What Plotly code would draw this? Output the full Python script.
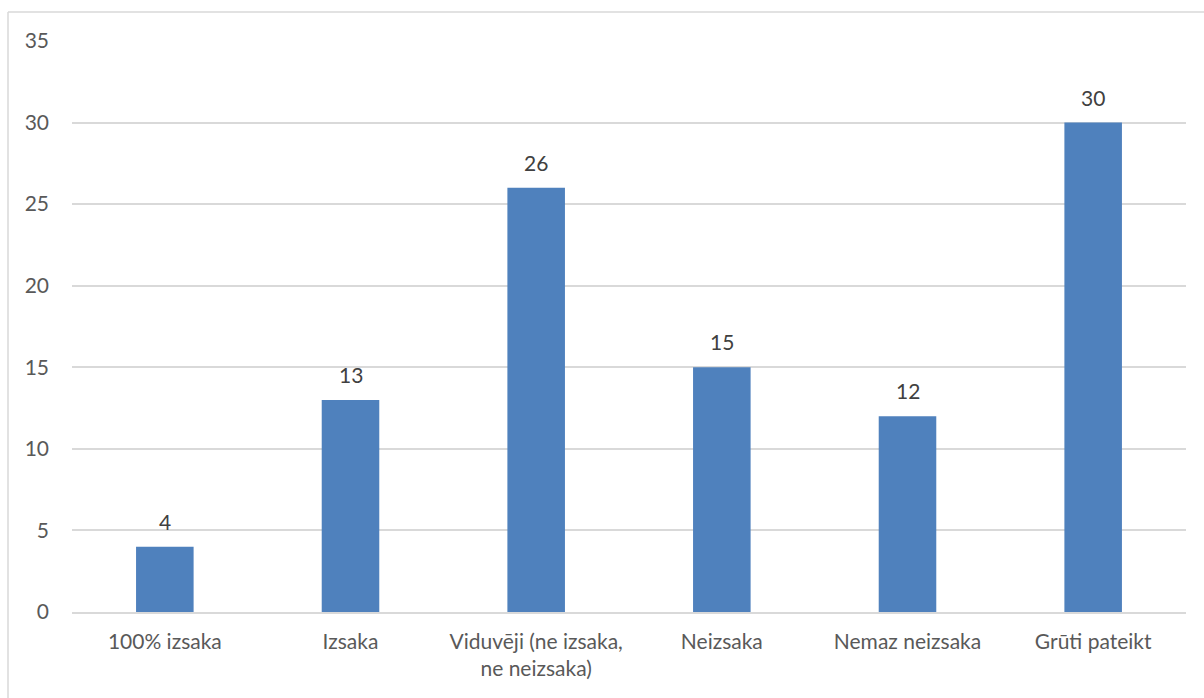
import plotly.graph_objects as go

categories = ["100% izsaka", "Izsaka", "Viduvēji (ne izsaka,<br>ne neizsaka)",
              "Neizsaka", "Nemaz neizsaka", "Grūti pateikt"]
values = [4, 13, 26, 15, 12, 30]
y_ticks = [0, 5, 10, 15, 20, 25, 30, 35]

FONT = "Lato, Open Sans, Noto Sans, sans-serif"
BAR = "#4f81bd"
GRID = "#d9d9d9"
FS = 21

fig = go.Figure(
    go.Bar(x=categories, y=values, marker=dict(color=BAR, line=dict(width=0)),
           hoverinfo="x+y")
)

# value labels above each bar
for c, v in zip(categories, values):
    fig.add_annotation(x=c, y=v, text=str(v), showarrow=False, yanchor="bottom",
                       yshift=11, font=dict(family=FONT, size=FS, color="#404040"))

# chart frame (left and top edges)
L, R, T, B = 72, 18, 41, 86
W, H = 1204, 698
pw, ph = W - L - R, H - T - B
fx = (8 - L) / pw
fy = 1 + (T - 12) / ph
fig.add_shape(type="line", xref="paper", yref="paper", x0=fx, x1=fx, y0=-1, y1=fy,
              line=dict(color=GRID, width=1.5))
fig.add_shape(type="line", xref="paper", yref="paper", x0=fx, x1=1.2, y0=fy, y1=fy,
              line=dict(color=GRID, width=1.5))

fig.update_layout(
    width=W, height=H,
    margin=dict(l=L, r=R, t=T, b=B),
    paper_bgcolor="white", plot_bgcolor="white",
    bargap=0.69,
    showlegend=False,
    font=dict(family=FONT, size=FS, color="#595959"),
    xaxis=dict(showgrid=False, showline=True, linecolor=GRID, linewidth=1.5,
               ticks="", ticklabelstandoff=10,
               tickfont=dict(size=FS, color="#595959")),
    yaxis=dict(range=[0, 35], tickvals=y_ticks, showgrid=True, gridcolor=GRID,
               gridwidth=1.5, zeroline=False, showline=False, ticks="",
               ticklabelstandoff=22, tickfont=dict(size=FS, color="#595959")),
)

fig.write_html("out.html")
